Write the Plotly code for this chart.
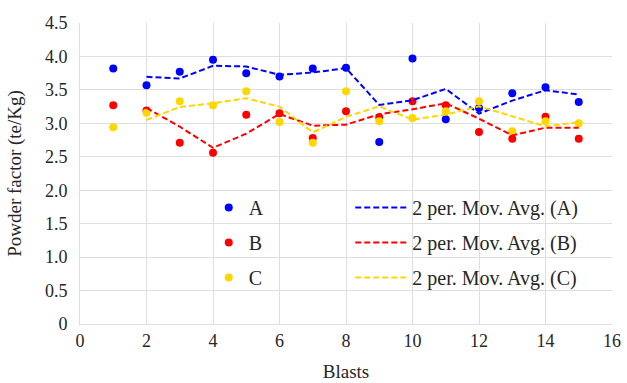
import plotly.graph_objects as go

blasts = list(range(1, 16))
series_a = [3.82, 3.57, 3.77, 3.95, 3.75, 3.70, 3.82, 3.83, 2.72, 3.97, 3.06, 3.23, 3.45, 3.54, 3.32]
series_b = [3.27, 3.19, 2.71, 2.56, 3.13, 3.15, 2.78, 3.18, 3.09, 3.33, 3.27, 2.87, 2.77, 3.10, 2.77]
series_c = [2.94, 3.16, 3.33, 3.27, 3.48, 3.02, 2.71, 3.48, 3.03, 3.08, 3.18, 3.33, 2.88, 3.03, 3.00]
names = ["A", "B", "C"]
colors = ["#0000FF", "#FF0000", "#FFD700"]
y_ticks = [0, 0.5, 1.0, 1.5, 2.0, 2.5, 3.0, 3.5, 4.0, 4.5]
y_tick_labels = ["0", "0.5", "1.0", "1.5", "2.0", "2.5", "3.0", "3.5", "4.0", "4.5"]
x_ticks = list(range(0, 17, 2))


def moving_avg(vals, period=2):
    xs, ys = [], []
    for i in range(period - 1, len(vals)):
        xs.append(blasts[i])
        ys.append(sum(vals[i - period + 1:i + 1]) / period)
    return xs, ys


FONT = "Liberation Serif, Times New Roman, serif"
TXT = "#262626"
fig = go.Figure()
for nm, vals, col in zip(names, [series_a, series_b, series_c], colors):
    fig.add_trace(go.Scatter(x=blasts, y=vals, mode="markers", name=nm,
                             marker=dict(color=col, size=8), legend="legend",
                             legendgroup="p" + nm))
for nm, vals, col in zip(names, [series_a, series_b, series_c], colors):
    mx, my = moving_avg(vals)
    fig.add_trace(go.Scatter(x=mx, y=my, mode="lines", name=f"2 per. Mov. Avg. ({nm})",
                             line=dict(color=col, width=2, dash="6px,3px"),
                             legend="legend2", legendgroup="m" + nm))

grid = "#dedede"
f18 = dict(family=FONT, size=18, color=TXT)
f19 = dict(family=FONT, size=19, color=TXT)
f20 = dict(family=FONT, size=20, color=TXT)
fig.update_layout(
    width=627, height=383,
    margin=dict(l=80, r=15, t=23, b=59, autoexpand=False),
    paper_bgcolor="white", plot_bgcolor="white",
    font=f18,
    legend=dict(x=0.242, y=0.452, xanchor="left", yanchor="top", bgcolor="rgba(0,0,0,0)",
                tracegroupgap=6, font=f20, itemwidth=30),
    legend2=dict(x=0.508, y=0.452, xanchor="left", yanchor="top", bgcolor="rgba(0,0,0,0)",
                 tracegroupgap=6, font=f20, itemwidth=52),
    xaxis=dict(range=[0, 16], tickvals=x_ticks, showgrid=True, gridcolor=grid,
               zeroline=False, showline=True, linecolor=grid, automargin=False,
               title=dict(text="Blasts", standoff=15, font=f19), ticks="", tickfont=f18),
    yaxis=dict(range=[0, 4.5], tickvals=y_ticks, ticktext=y_tick_labels, showgrid=True,
               gridcolor=grid, zeroline=False, showline=True, linecolor=grid, automargin=False,
               title=dict(text="Powder factor (te/Kg)", standoff=18, font=f19), ticks="",
               tickfont=f18, ticklabelstandoff=8),
)
fig.write_html("out.html", config={"displayModeBar": False},
               post_script="document.body.style.margin='0';document.body.style.overflow='hidden';")
